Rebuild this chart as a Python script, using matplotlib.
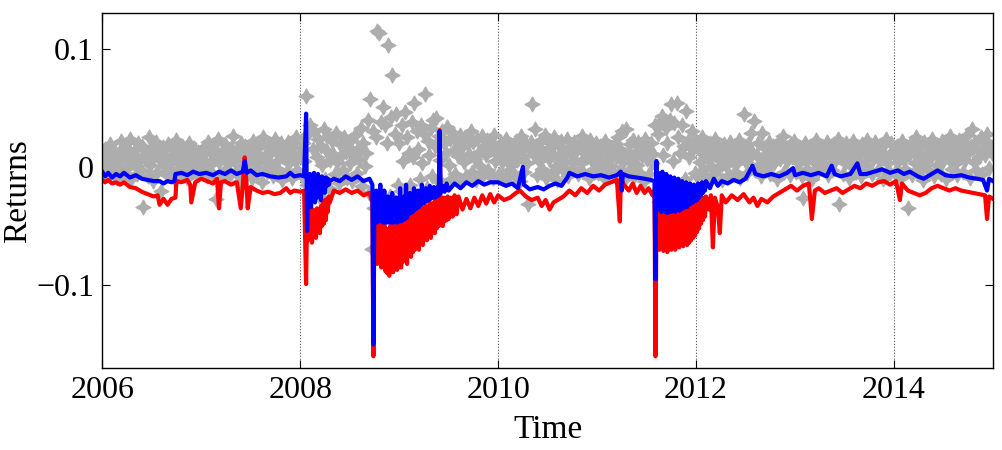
import numpy as np
import matplotlib
matplotlib.use("Agg")
import matplotlib.pyplot as plt

plt.rcParams['font.family'] = ['Liberation Serif', 'DejaVu Serif']

# daily returns (grey stars), read year by year
ret_2006 = [0.008, -0.004, 0.015, 0.002, 0.011, -0.007, 0.019, 0.004, -0.002, 0.013, 0.006, -0.009,
            0.012, 0.001, 0.022, -0.005, 0.009, 0.016, -0.001, 0.007, 0.024, -0.010, 0.010, 0.003,
            0.014, -0.006, 0.020, 0.005, -0.003, 0.018, -0.034, 0.008, 0.011, -0.008, 0.025, 0.002,
            0.016, -0.012, 0.009, 0.021, -0.004, 0.013, 0.006, -0.020, 0.017, 0.001, 0.010, -0.007,
            0.019, 0.004, -0.002, 0.015, 0.008, -0.011, 0.023, 0.003, 0.012, -0.005, 0.018, 0.007,
            -0.001, 0.014, -0.009, 0.020, 0.005, 0.011, -0.003, 0.016, 0.009, -0.006, 0.013, 0.002]
ret_2007 = [0.010, -0.003, 0.017, 0.005, -0.008, 0.021, 0.002, 0.012, -0.005, 0.015, 0.007, -0.027,
            0.024, 0.004, -0.010, 0.013, 0.008, 0.019, -0.002, 0.011, 0.003, -0.007, 0.016, 0.026,
            0.006, -0.004, 0.014, 0.009, -0.012, 0.020, 0.001, 0.012, 0.018, -0.006, 0.008, 0.004,
            0.015, -0.009, 0.022, 0.003, 0.010, -0.001, 0.017, 0.006, -0.013, 0.025, 0.007, 0.011,
            -0.004, 0.019, 0.002, 0.013, -0.008, 0.016, 0.024, 0.005, -0.002, 0.010, 0.020, -0.011,
            0.008, 0.014, -0.005, 0.021, 0.003, 0.012, -0.009, 0.017, 0.006, 0.025, -0.003, 0.009]
ret_2008 = [0.012, -0.008, 0.020, 0.005, 0.060, -0.015, 0.028, 0.035, -0.020, 0.015, 0.030, -0.012,
            0.008, 0.024, -0.025, 0.018, 0.002, 0.032, -0.010, 0.014, 0.026, -0.018, 0.006, 0.022,
            0.011, -0.006, 0.029, 0.004, -0.014, 0.019, 0.009, -0.003, 0.025, 0.013, -0.009, 0.017,
            0.003, 0.023, -0.012, 0.010, 0.027, -0.005, 0.015, 0.007, 0.033, -0.016, 0.020, 0.001,
            0.012, 0.040, -0.022, 0.057, -0.069, 0.030, -0.035, 0.025, 0.115, 0.113, -0.030, 0.038,
            0.051, -0.040, 0.035, 0.020, 0.103, -0.025, 0.042, 0.078, -0.030, 0.028, 0.045, -0.015]
ret_2009 = [0.020, -0.020, 0.035, 0.005, 0.046, -0.030, 0.025, 0.012, -0.015, 0.038, 0.008, 0.054,
            -0.025, 0.030, 0.015, -0.010, 0.035, 0.003, 0.028, 0.062, -0.018, 0.022, 0.010, 0.033,
            -0.008, 0.040, 0.018, 0.041, -0.012, 0.026, 0.006, 0.030, -0.015, 0.020, 0.012, 0.034,
            0.002, 0.024, -0.010, 0.029, 0.014, -0.006, 0.022, 0.009, 0.027, -0.012, 0.017, 0.004,
            0.025, -0.008, 0.019, 0.011, 0.030, -0.004, 0.021, 0.007, -0.011, 0.024, 0.013, 0.001,
            0.026, -0.007, 0.018, 0.010, 0.023, -0.003, 0.015, 0.020, -0.009, 0.027, 0.005, 0.016]
ret_2010 = [0.012, -0.006, 0.020, 0.004, 0.015, -0.010, 0.024, 0.008, -0.003, 0.018, 0.002, 0.013,
            -0.008, 0.022, 0.006, 0.016, -0.012, 0.026, 0.009, -0.004, 0.019, 0.003, -0.031, 0.014,
            0.021, 0.053, 0.010, 0.032, -0.007, 0.017, 0.005, 0.023, -0.002, 0.012, 0.027, -0.009,
            0.015, 0.007, 0.020, -0.005, 0.011, 0.025, 0.001, -0.011, 0.018, 0.008, 0.022, -0.003,
            0.013, 0.004, 0.024, -0.008, 0.016, 0.010, -0.001, 0.021, 0.006, 0.014, -0.006, 0.019,
            0.003, 0.026, -0.004, 0.012, 0.017, 0.008, -0.009, 0.023, 0.005, 0.015, -0.002, 0.020]
ret_2011 = [0.010, -0.005, 0.018, 0.003, 0.014, -0.009, 0.022, 0.006, -0.002, 0.016, 0.001, 0.012,
            -0.007, 0.020, 0.008, 0.025, -0.004, 0.015, 0.030, 0.004, -0.010, 0.032, 0.011, -0.003,
            0.019, 0.006, 0.023, -0.008, 0.013, 0.002, 0.021, -0.005, 0.017, 0.009, -0.012, 0.024,
            0.007, 0.014, -0.006, 0.020, 0.003, 0.011, 0.035, -0.020, 0.028, -0.030, 0.038, 0.043,
            0.010, -0.025, 0.033, 0.020, -0.015, 0.040, 0.053, 0.005, 0.037, -0.028, 0.054, 0.025,
            0.012, -0.018, 0.035, 0.018, -0.010, 0.047, 0.022, 0.008, -0.022, 0.030, 0.015, -0.005]
ret_2012 = [0.022, -0.008, 0.015, 0.004, 0.025, -0.003, 0.011, 0.018, -0.010, 0.007, 0.020, 0.001,
            0.013, -0.006, 0.024, 0.009, -0.002, 0.016, 0.005, -0.011, 0.019, 0.010, 0.002, 0.014,
            -0.007, 0.021, 0.006, 0.012, -0.004, 0.017, 0.003, 0.023, -0.009, 0.011, 0.015, 0.045,
            0.004, -0.005, 0.019, 0.008, 0.029, 0.013, 0.039, -0.003, 0.010, 0.020, 0.002, -0.008,
            0.029, 0.006, 0.016, -0.001, 0.012, 0.021, -0.006, 0.009, 0.018, 0.003, 0.014, -0.010,
            0.022, 0.007, 0.011, 0.026, -0.004, 0.017, 0.005, 0.013, -0.007, 0.019, 0.008, 0.022]
ret_2013 = [0.009, -0.004, 0.016, 0.003, 0.012, -0.008, -0.026, 0.020, 0.006, -0.002, 0.014, 0.010,
            -0.010, 0.018, 0.004, 0.023, -0.005, 0.011, 0.007, 0.017, -0.001, 0.013, 0.002, 0.021,
            -0.007, 0.015, 0.008, -0.003, 0.019, 0.005, 0.012, 0.024, -0.031, 0.010, 0.016, -0.006,
            0.003, 0.020, 0.009, -0.009, 0.014, 0.001, 0.022, 0.006, -0.004, 0.017, 0.011, 0.004,
            -0.008, 0.019, 0.013, 0.002, 0.023, -0.002, 0.010, 0.016, -0.006, 0.007, 0.021, 0.012,
            -0.003, 0.015, 0.005, 0.018, -0.010, 0.011, 0.024, 0.003, 0.009, -0.005, 0.020, 0.013]
ret_2014 = [0.011, -0.005, 0.018, 0.004, 0.013, -0.009, 0.022, 0.007, -0.002, 0.015, -0.035, 0.010,
            0.020, -0.007, 0.014, 0.003, 0.025, -0.004, 0.009, 0.017, 0.001, -0.011, 0.021, 0.006,
            0.012, -0.003, 0.019, 0.008, 0.024, -0.008, 0.013, 0.002, 0.016, 0.010, -0.006, 0.022,
            0.005, 0.014, -0.010, 0.020, 0.007, 0.026, -0.002, 0.011, 0.017, 0.003, -0.007, 0.023,
            0.009, 0.015, -0.004, 0.019, 0.006, 0.027, 0.012, -0.009, 0.018, 0.032, 0.004, 0.021,
            -0.003, 0.014, 0.008, 0.025, -0.006, 0.016, 0.010, 0.022, 0.028, -0.001, 0.017, 0.012]

years = [2006, 2007, 2008, 2009, 2010, 2011, 2012, 2013, 2014]
returns = [ret_2006, ret_2007, ret_2008, ret_2009, ret_2010, ret_2011, ret_2012, ret_2013, ret_2014]

# red line (time, value)
red_t = [2006.00, 2006.03, 2006.06, 2006.10, 2006.14, 2006.18, 2006.22, 2006.28, 2006.34, 2006.40,
         2006.46, 2006.52, 2006.56, 2006.58, 2006.62, 2006.66, 2006.70, 2006.74, 2006.75, 2006.80,
         2006.86, 2006.89, 2006.90, 2006.94, 2007.00, 2007.06, 2007.12, 2007.16, 2007.18, 2007.20,
         2007.24, 2007.30, 2007.36, 2007.40, 2007.42, 2007.44, 2007.46, 2007.47, 2007.50, 2007.56,
         2007.62, 2007.68, 2007.74, 2007.80, 2007.86, 2007.90, 2007.94, 2008.00, 2008.04,
         2008.06, 2008.07, 2008.08, 2008.09, 2008.10, 2008.11, 2008.12, 2008.13, 2008.14, 2008.15,
         2008.16, 2008.17, 2008.18, 2008.19, 2008.20, 2008.21, 2008.22, 2008.23, 2008.24, 2008.25,
         2008.26, 2008.27, 2008.28, 2008.29, 2008.30,
         2008.34, 2008.40, 2008.46, 2008.52, 2008.58, 2008.64, 2008.70, 2008.73,
         2008.74, 2008.75, 2008.76, 2008.77, 2008.78, 2008.79, 2008.80, 2008.81, 2008.82, 2008.83,
         2008.84, 2008.85, 2008.86, 2008.87, 2008.88, 2008.89, 2008.90, 2008.91, 2008.92, 2008.93,
         2008.94, 2008.95, 2008.96, 2008.97, 2008.98, 2008.99, 2009.00, 2009.01, 2009.02, 2009.03,
         2009.04, 2009.05, 2009.06, 2009.07, 2009.08, 2009.09, 2009.10, 2009.11, 2009.12, 2009.13,
         2009.14, 2009.15, 2009.16, 2009.17, 2009.18, 2009.19, 2009.20, 2009.21, 2009.22, 2009.23,
         2009.24, 2009.25, 2009.26, 2009.27, 2009.28, 2009.29, 2009.30, 2009.31, 2009.32, 2009.33,
         2009.34, 2009.35, 2009.36, 2009.37, 2009.38, 2009.39, 2009.40, 2009.41, 2009.42, 2009.43,
         2009.44, 2009.45, 2009.46, 2009.47, 2009.48, 2009.49, 2009.50, 2009.52, 2009.54, 2009.56,
         2009.58, 2009.60, 2009.64, 2009.68, 2009.72, 2009.76, 2009.80, 2009.84, 2009.88, 2009.92,
         2009.96, 2010.00, 2010.06, 2010.12, 2010.18, 2010.22, 2010.28, 2010.34, 2010.40,
         2010.44, 2010.48, 2010.52, 2010.56, 2010.60, 2010.66, 2010.72, 2010.78, 2010.84, 2010.90,
         2010.96, 2011.02, 2011.08, 2011.14, 2011.20, 2011.23, 2011.24, 2011.27, 2011.32, 2011.36,
         2011.40, 2011.44, 2011.48, 2011.52, 2011.56, 2011.58,
         2011.59, 2011.60, 2011.61, 2011.62, 2011.63, 2011.64, 2011.65, 2011.66, 2011.67, 2011.68,
         2011.69, 2011.70, 2011.71, 2011.72, 2011.73, 2011.74, 2011.75, 2011.76, 2011.77, 2011.78,
         2011.79, 2011.80, 2011.81, 2011.82, 2011.83, 2011.84, 2011.85, 2011.86, 2011.87, 2011.88,
         2011.89, 2011.90, 2011.91, 2011.92, 2011.93, 2011.94, 2011.95, 2011.96, 2011.97, 2011.98,
         2011.99, 2012.00, 2012.01, 2012.02, 2012.03, 2012.04, 2012.05, 2012.06, 2012.07, 2012.08,
         2012.09, 2012.10, 2012.13, 2012.15, 2012.17, 2012.19, 2012.22, 2012.24, 2012.26, 2012.30,
         2012.36, 2012.42, 2012.48,
         2012.54, 2012.58, 2012.62, 2012.66, 2012.72, 2012.78, 2012.84, 2012.90, 2012.96, 2013.02,
         2013.08, 2013.14, 2013.17, 2013.20, 2013.24, 2013.30, 2013.36, 2013.42, 2013.48, 2013.54,
         2013.60, 2013.66, 2013.72, 2013.78, 2013.84, 2013.90, 2013.96, 2014.02, 2014.06, 2014.08,
         2014.14, 2014.20, 2014.26, 2014.32, 2014.38, 2014.44, 2014.50, 2014.56, 2014.62, 2014.68,
         2014.74, 2014.80, 2014.86, 2014.92, 2014.94, 2014.96, 2015.00]
red_v = [-0.011, -0.013, -0.011, -0.014, -0.013, -0.015, -0.013, -0.017, -0.018, -0.021,
         -0.023, -0.025, -0.024, -0.032, -0.027, -0.032, -0.027, -0.026, -0.012, -0.013,
         -0.011, -0.015, -0.030, -0.013, -0.010, -0.012, -0.014, -0.010, -0.035, -0.013,
         -0.012, -0.015, -0.013, -0.035, -0.016, 0.008, -0.018, -0.035, -0.017, -0.020,
         -0.022, -0.021, -0.023, -0.022, -0.018, -0.022, -0.020, -0.021, -0.020,
         -0.099, -0.040, -0.062, -0.035, -0.058, -0.038, -0.064, -0.036, -0.055, -0.040,
         -0.060, -0.035, -0.052, -0.038, -0.056, -0.033, -0.050, -0.030, -0.048, -0.028,
         -0.045, -0.027, -0.038, -0.025, -0.030,
         -0.020, -0.022, -0.019, -0.022, -0.020, -0.024, -0.022, -0.030,
         -0.160, -0.045, -0.075, -0.040, -0.082, -0.048, -0.070, -0.042, -0.085, -0.050,
         -0.078, -0.046, -0.088, -0.052, -0.090, -0.055, -0.092, -0.050, -0.086, -0.048,
         -0.089, -0.055, -0.084, -0.050, -0.087, -0.046, -0.082, -0.050, -0.085, -0.044,
         -0.080, -0.048, -0.078, -0.040, -0.082, -0.045, -0.075, -0.042, -0.076, -0.040,
         -0.072, -0.036, -0.070, -0.040, -0.068, -0.035, -0.070, -0.038, -0.064, -0.034,
         -0.066, -0.036, -0.060, -0.033, -0.062, -0.035, -0.058, -0.030, -0.060, -0.032,
         -0.055, -0.030, -0.056, -0.028, -0.052, -0.030, -0.050, 0.031, -0.048, -0.028,
         -0.050, -0.026, -0.046, -0.027, -0.045, -0.025, -0.044, -0.026, -0.042, -0.024,
         -0.040, -0.025, -0.036, -0.027, -0.035, -0.026, -0.033, -0.024, -0.031, -0.023,
         -0.030, -0.024, -0.028, -0.026, -0.022, -0.020, -0.025, -0.028, -0.026,
         -0.033, -0.028, -0.036, -0.030, -0.028, -0.025, -0.020, -0.024, -0.018, -0.022,
         -0.016, -0.020, -0.015, -0.013, -0.011, -0.046, -0.010, -0.015, -0.020, -0.014,
         -0.022, -0.016, -0.022, -0.018, -0.024, -0.020,
         -0.160, -0.040, -0.066, -0.035, -0.070, -0.040, -0.068, -0.036, -0.071, -0.042,
         -0.070, -0.038, -0.072, -0.044, -0.069, -0.036, -0.070, -0.040, -0.068, -0.035,
         -0.070, -0.042, -0.067, -0.036, -0.068, -0.040, -0.066, -0.034, -0.067, -0.038,
         -0.065, -0.035, -0.066, -0.036, -0.064, -0.033, -0.062, -0.034, -0.060, -0.032,
         -0.058, -0.030, -0.055, -0.030, -0.052, -0.028, -0.048, -0.027, -0.045, -0.026,
         -0.042, -0.025, -0.036, -0.024, -0.068, -0.026, -0.034, -0.056, -0.024, -0.030,
         -0.024, -0.028, -0.023,
         -0.030, -0.026, -0.033, -0.027, -0.030, -0.025, -0.022, -0.019, -0.016, -0.020,
         -0.016, -0.014, -0.044, -0.020, -0.018, -0.022, -0.020, -0.018, -0.022, -0.019,
         -0.016, -0.018, -0.014, -0.016, -0.013, -0.012, -0.015, -0.012, -0.028, -0.014,
         -0.020, -0.022, -0.024, -0.022, -0.018, -0.016, -0.018, -0.020, -0.018, -0.020,
         -0.021, -0.022, -0.023, -0.024, -0.044, -0.025, -0.027]

# blue line (time, value)
blue_t = [2006.00, 2006.03, 2006.06, 2006.10, 2006.14, 2006.18, 2006.22, 2006.28, 2006.34, 2006.40,
          2006.46, 2006.52, 2006.58, 2006.62, 2006.66, 2006.70, 2006.73, 2006.74, 2006.80, 2006.86,
          2006.92, 2006.98, 2007.05, 2007.12, 2007.18, 2007.24, 2007.30, 2007.36, 2007.42, 2007.44,
          2007.46, 2007.50, 2007.56, 2007.62, 2007.70, 2007.78, 2007.86, 2007.90, 2007.94, 2008.00,
          2008.04,
          2008.06, 2008.07, 2008.08, 2008.09, 2008.10, 2008.11, 2008.12, 2008.13, 2008.14, 2008.15,
          2008.16, 2008.17, 2008.18, 2008.19, 2008.20, 2008.21, 2008.22, 2008.23, 2008.24, 2008.25,
          2008.26, 2008.27, 2008.28, 2008.29, 2008.30,
          2008.34, 2008.40, 2008.46, 2008.52, 2008.58, 2008.64, 2008.70, 2008.73,
          2008.74, 2008.75, 2008.76, 2008.77, 2008.78, 2008.79, 2008.80, 2008.81, 2008.82, 2008.83,
          2008.84, 2008.85, 2008.86, 2008.87, 2008.88, 2008.89, 2008.90, 2008.91, 2008.92, 2008.93,
          2008.94, 2008.95, 2008.96, 2008.97, 2008.98, 2008.99, 2009.00, 2009.01, 2009.02, 2009.03,
          2009.04, 2009.05, 2009.06, 2009.07, 2009.08, 2009.09, 2009.10, 2009.11, 2009.12, 2009.13,
          2009.14, 2009.15, 2009.16, 2009.17, 2009.18, 2009.19, 2009.20, 2009.21, 2009.22, 2009.23,
          2009.24, 2009.25, 2009.26, 2009.27, 2009.28, 2009.29, 2009.30, 2009.31, 2009.32, 2009.33,
          2009.34, 2009.35, 2009.36, 2009.37, 2009.38, 2009.39, 2009.40, 2009.41, 2009.42, 2009.44,
          2009.46, 2009.48, 2009.50, 2009.56, 2009.62, 2009.68,
          2009.74, 2009.80, 2009.86, 2009.92, 2010.00, 2010.08, 2010.14, 2010.20, 2010.25, 2010.26,
          2010.32, 2010.40, 2010.46, 2010.52, 2010.58, 2010.64, 2010.70, 2010.72, 2010.80, 2010.88,
          2010.96, 2011.04, 2011.12, 2011.20, 2011.24, 2011.25, 2011.26, 2011.32, 2011.40, 2011.48,
          2011.54, 2011.58,
          2011.59, 2011.60, 2011.61, 2011.62, 2011.63, 2011.64, 2011.65, 2011.66, 2011.67, 2011.68,
          2011.69, 2011.70, 2011.71, 2011.72, 2011.73, 2011.74, 2011.75, 2011.76, 2011.77, 2011.78,
          2011.79, 2011.80, 2011.81, 2011.82, 2011.83, 2011.84, 2011.85, 2011.86, 2011.87, 2011.88,
          2011.89, 2011.90, 2011.91, 2011.92, 2011.93, 2011.94, 2011.95, 2011.96, 2011.97, 2011.98,
          2011.99, 2012.00, 2012.01, 2012.02, 2012.03, 2012.04, 2012.05, 2012.06, 2012.07, 2012.08,
          2012.09, 2012.10, 2012.14, 2012.18, 2012.22, 2012.26,
          2012.32, 2012.38, 2012.44, 2012.50, 2012.57, 2012.60, 2012.68, 2012.76, 2012.84, 2012.92,
          2012.98, 2013.00, 2013.08, 2013.16, 2013.24, 2013.32, 2013.37, 2013.40, 2013.46, 2013.56,
          2013.63, 2013.66, 2013.72, 2013.80, 2013.88, 2013.96, 2014.04, 2014.10, 2014.16, 2014.24,
          2014.30, 2014.36, 2014.44, 2014.46, 2014.52, 2014.60, 2014.68, 2014.76, 2014.84, 2014.90,
          2014.94, 2014.96, 2015.00]
blue_v = [-0.004, -0.008, -0.005, -0.009, -0.006, -0.008, -0.005, -0.009, -0.007, -0.010,
          -0.011, -0.012, -0.012, -0.014, -0.012, -0.013, -0.012, -0.006, -0.005, -0.007,
          -0.004, -0.006, -0.005, -0.007, -0.004, -0.006, -0.003, -0.006, -0.004, 0.005,
          -0.005, -0.003, -0.007, -0.006, -0.008, -0.009, -0.008, -0.005, -0.008, -0.007,
          -0.008,
          0.045, -0.054, -0.010, -0.030, -0.006, -0.034, -0.008, -0.028, -0.005, -0.030,
          -0.010, -0.026, -0.006, -0.024, -0.010, -0.028, -0.008, -0.020, -0.010, -0.022,
          -0.009, -0.016, -0.010, -0.015, -0.012,
          -0.010, -0.012, -0.008, -0.011, -0.008, -0.012, -0.010, -0.015,
          -0.150, -0.030, -0.045, -0.020, -0.047, -0.025, -0.040, -0.015, -0.046, -0.028,
          -0.047, -0.020, -0.047, -0.030, -0.047, -0.025, -0.047, -0.035, -0.047, -0.022,
          -0.047, -0.030, -0.047, -0.026, -0.047, -0.032, -0.046, -0.018, -0.046, -0.030,
          -0.045, -0.025, -0.044, -0.015, -0.043, -0.028, -0.040, -0.022, -0.039, -0.030,
          -0.038, -0.018, -0.036, -0.025, -0.035, -0.020, -0.034, -0.024, -0.032, -0.015,
          -0.031, -0.022, -0.030, -0.018, -0.029, -0.020, -0.028, -0.016, -0.027, -0.019,
          -0.026, -0.017, -0.026, -0.018, -0.025, -0.017, -0.024, 0.030, -0.022, -0.016,
          -0.021, -0.014, -0.020, -0.014, -0.018, -0.013,
          -0.016, -0.012, -0.015, -0.013, -0.013, -0.016, -0.014, -0.018, 0.000, -0.015,
          -0.019, -0.017, -0.019, -0.016, -0.014, -0.016, -0.009, -0.005, -0.008, -0.006,
          -0.008, -0.007, -0.009, -0.007, -0.004, -0.020, -0.006, -0.008, -0.009, -0.010,
          -0.011, -0.012,
          -0.095, 0.005, -0.030, -0.005, -0.036, -0.008, -0.038, -0.004, -0.037, -0.010,
          -0.038, -0.006, -0.039, -0.012, -0.038, -0.008, -0.038, -0.012, -0.037, -0.009,
          -0.038, -0.014, -0.036, -0.010, -0.037, -0.015, -0.036, -0.012, -0.035, -0.016,
          -0.034, -0.013, -0.034, -0.017, -0.032, -0.014, -0.031, -0.018, -0.030, -0.015,
          -0.029, -0.017, -0.028, -0.014, -0.026, -0.016, -0.024, -0.013, -0.022, -0.015,
          -0.020, -0.012, -0.018, -0.010, -0.016, -0.012,
          -0.014, -0.011, -0.013, -0.010, 0.001, -0.006, -0.008, -0.006, -0.008, -0.005,
          -0.001, -0.007, -0.005, -0.007, -0.005, -0.008, 0.001, -0.006, -0.008, -0.006,
          0.003, -0.006, -0.006, -0.004, -0.002, -0.005, -0.003, -0.006, -0.004, -0.008,
          -0.010, -0.007, -0.003, -0.004, -0.007, -0.008, -0.007, -0.009, -0.010, -0.011,
          -0.020, -0.010, -0.012]

fig = plt.figure(figsize=(10.02, 4.5), dpi=100)
ax = fig.add_axes([0.102, 0.182, 0.889, 0.789])

for yr, r in zip(years, returns):
    t = np.linspace(yr, yr + 1, len(r), endpoint=False)
    ax.plot(t, r, linestyle='none', marker=(4, 1, 0), markersize=11,
            color='#adadad', markeredgewidth=0.8)

ax.plot(red_t, red_v, color='red', linewidth=3.0)
ax.plot(blue_t, blue_v, color='blue', linewidth=3.0)

ax.set_xlim(2006, 2015)
ax.set_ylim(-0.17, 0.13)
ax.set_xticks([2006, 2008, 2010, 2012, 2014])
ax.set_xticklabels(['2006', '2008', '2010', '2012', '2014'])
ax.set_yticks([-0.1, 0, 0.1])
ax.set_yticklabels(['\u22120.1', '0', '0.1'])
ax.tick_params(direction='in', top=True, right=True, length=6, labelsize=23, pad=6)
ax.xaxis.grid(True, linestyle=':', color='#555555', linewidth=0.8)
for s in ax.spines.values():
    s.set_linewidth(1.0)

ax.set_xlabel('Time', fontsize=24)
ax.set_ylabel('Returns', fontsize=24)
ax.xaxis.set_label_coords(0.5, -0.13)
ax.yaxis.set_label_coords(-0.078, 0.5)

fig.savefig('out.png', dpi=100)
